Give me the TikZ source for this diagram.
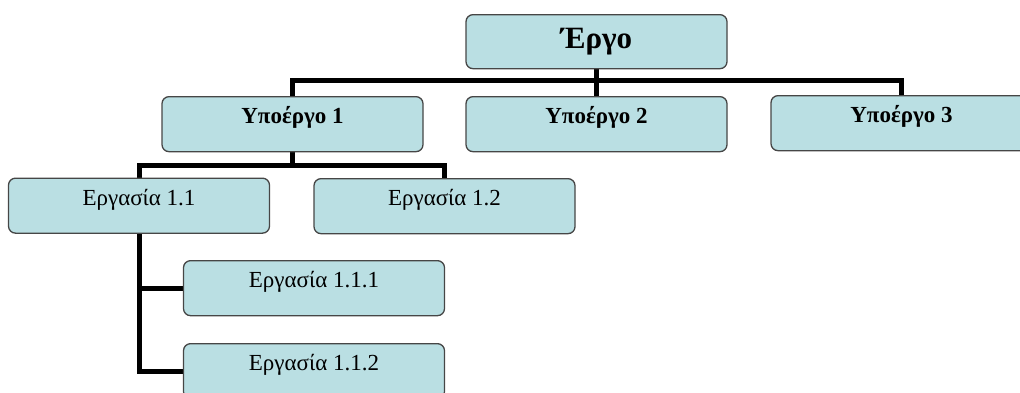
\documentclass[tikz,border=0pt]{standalone}
\usepackage{fontspec}
\setmainfont{Liberation Serif}
\usetikzlibrary{backgrounds}
\definecolor{boxblue}{RGB}{186,223,227}
\definecolor{boxedge}{RGB}{70,70,70}
\tikzset{
  wbox/.style={draw=boxedge, line width=1.3pt, fill=boxblue, rounded corners=7pt,
    minimum width=261pt, inner sep=0pt, anchor=north, align=center,
    text height=27pt, text depth=28pt},
  topbox/.style={wbox, text height=34pt, text depth=20pt,
    font=\fontsize{31}{35}\selectfont\bfseries},
  subbox/.style={wbox, font=\fontsize{23}{27}\selectfont\bfseries},
  taskbox/.style={wbox, font=\fontsize{23}{27}\selectfont},
  conn/.style={line width=5pt, black}
}
\begin{document}
\begin{tikzpicture}[x=1pt,y=-1pt]
\useasboundingbox (0,0) rectangle (1020,392);
\node[topbox] (top) at (596.5,14) {Έργο};
\node[subbox] (s1) at (292.5,96) {Υποέργο 1};
\node[subbox] (s2) at (596.5,96) {Υποέργο 2};
\node[subbox] (s3) at (901.5,95) {Υποέργο 3};
\node[taskbox] (t11) at (139,177.5) {Εργασία 1.1};
\node[taskbox] (t12) at (444.5,178) {Εργασία 1.2};
\node[taskbox] (t111) at (314,260) {Εργασία 1.1.1};
\node[taskbox] (t112) at (314,343) {Εργασία 1.1.2};
\coordinate (bar1) at (596.5,80);
\coordinate (bar2) at (292.5,165);
\begin{scope}[on background layer]
\draw[conn] (top.south) -- (bar1);
\draw[conn] (s1.north) |- (bar1) -| (s3.north);
\draw[conn] (bar1) -- (s2.north);
\draw[conn] (s1.south) -- (bar2);
\draw[conn] (t11.north) |- (bar2) -| (t12.north);
\draw[conn] (t11.south) |- (t112.west);
\draw[conn] (t11.south |- t111.west) -- (t111.west);
\end{scope}
\end{tikzpicture}
\end{document}
